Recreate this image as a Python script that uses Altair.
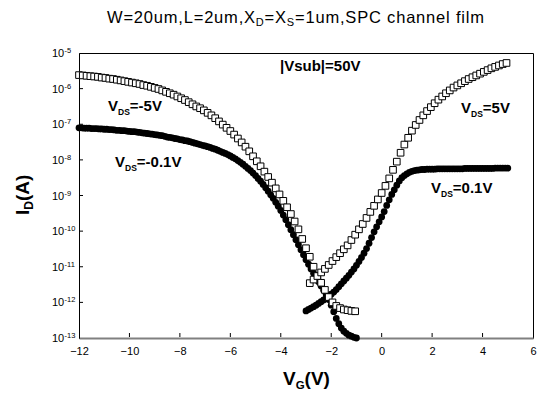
import altair as alt
import pandas as pd

# ---------------- data (log10 of drain current) ----------------
# open squares, V_DS = -5 V
vg_sq_neg = [-12.0, -11.85, -11.7, -11.55, -11.4, -11.25, -11.1, -10.95, -10.8, -10.65,
             -10.5, -10.35, -10.2, -10.05, -9.9, -9.75, -9.6, -9.45, -9.3, -9.15,
             -9.0, -8.85, -8.7, -8.55, -8.4, -8.25, -8.1, -7.95, -7.8, -7.65,
             -7.5, -7.35, -7.2, -7.05, -6.9, -6.75, -6.6, -6.45, -6.3, -6.15,
             -6.0, -5.85, -5.7, -5.55, -5.4, -5.25, -5.1, -4.95, -4.8, -4.65,
             -4.5, -4.35, -4.2, -4.05, -3.9, -3.75, -3.6, -3.45, -3.3, -3.15,
             -3.0, -2.85, -2.7, -2.55, -2.4, -2.25, -2.1, -1.95, -1.8, -1.65,
             -1.5, -1.35, -1.2, -1.05]
log_sq_neg = [-5.62, -5.63, -5.64, -5.65, -5.66, -5.67, -5.69, -5.70, -5.72, -5.73,
              -5.75, -5.77, -5.79, -5.81, -5.83, -5.85, -5.87, -5.90, -5.92, -5.95,
              -5.98, -6.01, -6.05, -6.09, -6.13, -6.17, -6.22, -6.27, -6.32, -6.38,
              -6.44, -6.50, -6.55, -6.61, -6.68, -6.75, -6.83, -6.92, -7.01, -7.10,
              -7.19, -7.29, -7.40, -7.51, -7.63, -7.76, -7.90, -8.04, -8.18, -8.33,
              -8.48, -8.64, -8.80, -8.97, -9.15, -9.33, -9.52, -9.73, -9.95, -10.22,
              -10.48, -10.72, -11.00, -11.27, -11.45, -11.65, -11.85, -12.00, -12.10, -12.16,
              -12.20, -12.22, -12.24, -12.25]

# open squares, V_DS = 5 V
vg_sq_pos = [-2.85, -2.7, -2.55, -2.4, -2.25, -2.1, -1.95, -1.8, -1.65, -1.5,
             -1.35, -1.2, -1.05, -0.9, -0.75, -0.6, -0.45, -0.3, -0.15, 0.0,
             0.15, 0.3, 0.45, 0.6, 0.75, 0.9, 1.05, 1.2, 1.35, 1.5,
             1.65, 1.8, 1.95, 2.1, 2.25, 2.4, 2.55, 2.7, 2.85, 3.0,
             3.15, 3.3, 3.45, 3.6, 3.75, 3.9, 4.05, 4.2, 4.35, 4.5,
             4.65, 4.8, 4.95]
log_sq_pos = [-11.46, -11.36, -11.26, -11.16, -11.06, -10.95, -10.84, -10.73, -10.62, -10.51,
              -10.40, -10.25, -10.10, -9.95, -9.80, -9.63, -9.46, -9.29, -9.11, -8.93,
              -8.73, -8.52, -8.28, -8.05, -7.80, -7.57, -7.38, -7.18, -7.02, -6.88,
              -6.75, -6.63, -6.52, -6.41, -6.31, -6.22, -6.13, -6.05, -5.97, -5.91,
              -5.85, -5.79, -5.73, -5.68, -5.63, -5.58, -5.53, -5.48, -5.43, -5.39,
              -5.35, -5.31, -5.28]

# filled circles, V_DS = -0.1 V
vg_ci_neg = [-12.0, -11.9, -11.8, -11.7, -11.6, -11.5, -11.4, -11.3, -11.2, -11.1,
             -11.0, -10.9, -10.8, -10.7, -10.6, -10.5, -10.4, -10.3, -10.2, -10.1,
             -10.0, -9.9, -9.8, -9.7, -9.6, -9.5, -9.4, -9.3, -9.2, -9.1,
             -9.0, -8.9, -8.8, -8.7, -8.6, -8.5, -8.4, -8.3, -8.2, -8.1,
             -8.0, -7.9, -7.8, -7.7, -7.6, -7.5, -7.4, -7.3, -7.2, -7.1,
             -7.0, -6.9, -6.8, -6.7, -6.6, -6.5, -6.4, -6.3, -6.2, -6.1,
             -6.0, -5.9, -5.8, -5.7, -5.6, -5.5, -5.4, -5.3, -5.2, -5.1,
             -5.0, -4.9, -4.8, -4.7, -4.6, -4.5, -4.4, -4.3, -4.2, -4.1,
             -4.0, -3.9, -3.8, -3.7, -3.6, -3.5, -3.4, -3.3, -3.2, -3.1,
             -3.0, -2.9, -2.8, -2.7, -2.6, -2.5, -2.4, -2.3, -2.2, -2.1,
             -2.0, -1.9, -1.8, -1.7, -1.6, -1.5, -1.4, -1.3, -1.2, -1.1, -1.0]
log_ci_neg = [-7.10, -7.10, -7.11, -7.11, -7.11, -7.12, -7.12, -7.12, -7.13, -7.13,
              -7.14, -7.14, -7.15, -7.15, -7.16, -7.17, -7.17, -7.18, -7.18, -7.19,
              -7.20, -7.21, -7.21, -7.22, -7.23, -7.24, -7.25, -7.26, -7.27, -7.28,
              -7.29, -7.30, -7.31, -7.32, -7.34, -7.36, -7.37, -7.38, -7.40, -7.41,
              -7.43, -7.44, -7.46, -7.47, -7.49, -7.51, -7.53, -7.55, -7.57, -7.59,
              -7.61, -7.63, -7.65, -7.68, -7.70, -7.73, -7.76, -7.79, -7.82, -7.85,
              -7.89, -7.93, -7.97, -8.02, -8.07, -8.12, -8.18, -8.24, -8.30, -8.37,
              -8.44, -8.52, -8.60, -8.69, -8.78, -8.88, -8.98, -9.08, -9.19, -9.30,
              -9.42, -9.55, -9.68, -9.82, -9.96, -10.10, -10.24, -10.38, -10.52, -10.66,
              -10.80, -10.93, -11.06, -11.18, -11.30, -11.42, -11.54, -11.66, -11.78, -11.92,
              -12.08, -12.26, -12.45, -12.60, -12.72, -12.81, -12.87, -12.92, -12.95, -12.98, -13.00]

# filled circles, V_DS = 0.1 V
vg_ci_pos = [-3.0, -2.9, -2.8, -2.7, -2.6, -2.5, -2.4, -2.3, -2.2, -2.1,
             -2.0, -1.9, -1.8, -1.7, -1.6, -1.5, -1.4, -1.3, -1.2, -1.1,
             -1.0, -0.9, -0.8, -0.7, -0.6, -0.5, -0.4, -0.3, -0.2, -0.1,
             0.0, 0.1, 0.2, 0.3, 0.4, 0.5, 0.6, 0.7, 0.8, 0.9,
             1.0, 1.1, 1.2, 1.3, 1.4, 1.5, 1.6, 1.7, 1.8, 1.9,
             2.0, 2.1, 2.2, 2.3, 2.4, 2.5, 2.6, 2.7, 2.8, 2.9,
             3.0, 3.1, 3.2, 3.3, 3.4, 3.5, 3.6, 3.7, 3.8, 3.9,
             4.0, 4.1, 4.2, 4.3, 4.4, 4.5, 4.6, 4.7, 4.8, 4.9, 5.0]
log_ci_pos = [-12.24, -12.20, -12.16, -12.12, -12.08, -12.03, -11.98, -11.93, -11.88, -11.83,
              -11.77, -11.71, -11.64, -11.56, -11.48, -11.40, -11.32, -11.24, -11.15, -11.06,
              -10.96, -10.85, -10.74, -10.62, -10.49, -10.34, -10.18, -10.02, -9.88, -9.74,
              -9.60, -9.45, -9.28, -9.12, -8.97, -8.84, -8.71, -8.59, -8.50, -8.44,
              -8.39, -8.35, -8.32, -8.30, -8.29, -8.28, -8.27, -8.27, -8.26, -8.26,
              -8.26, -8.26, -8.25, -8.25, -8.25, -8.25, -8.25, -8.25, -8.25, -8.25,
              -8.25, -8.25, -8.25, -8.24, -8.24, -8.24, -8.24, -8.24, -8.24, -8.24,
              -8.24, -8.24, -8.24, -8.24, -8.24, -8.23, -8.23, -8.23, -8.23, -8.23, -8.23]

x_ticks = [-12, -10, -8, -6, -4, -2, 0, 2, 4, 6]
y_exps = [-5, -6, -7, -8, -9, -10, -11, -12, -13]

# ---------------- layout ----------------
W, H = 454, 285
PL, PT = 79, 53
FONT = "Liberation Sans"

REG = {' ': .278, '(': .333, ')': .333, ',': .278, '-': .333, '.': .278, '=': .584,
       'A': .667, 'C': .722, 'D': .722, 'G': .778, 'I': .278, 'L': .556, 'P': .667,
       'S': .667, 'V': .667, 'W': .944, 'X': .667, 'a': .556, 'b': .556, 'c': .5,
       'e': .556, 'f': .278, 'h': .556, 'i': .222, 'l': .222, 'm': .833, 'n': .556,
       's': .5, 'u': .556, '|': .26}
BOLD = dict(REG)
BOLD.update({'A': .722, 'b': .611, 'u': .611, 's': .556, '|': .28, 'c': .556,
             'e': .556, 'h': .611, 'n': .611, 'm': .889, 'i': .278, 'l': .278, 'f': .333})


def tw(s, fs, bold):
    tab = BOLD if bold else REG
    return sum(tab.get(c, .556) for c in s) * fs


xs = alt.Scale(domain=[-12, 6], nice=False, zero=False)
ys = alt.Scale(type="log", domain=[1e-13, 1e-5], nice=False)
xaxis = alt.Axis(values=x_ticks, ticks=False, tickSize=0, grid=False, title=None,
                 labelFont=FONT, labelFontSize=11, labelColor="black", labelPadding=7,
                 domainColor="#808080", domainWidth=2, labelFlush=False)
yaxis = alt.Axis(labels=False, ticks=False, tickSize=0, grid=False, title=None,
                 domainColor="black", domainWidth=1)
X = alt.X("vg:Q", scale=xs, axis=xaxis)
Y = alt.Y("i:Q", scale=ys, axis=yaxis)


def series(vg, lg):
    return pd.DataFrame({"vg": vg, "i": [10.0 ** v for v in lg]})


circ_neg = alt.Chart(series(vg_ci_neg, log_ci_neg)).mark_point(
    shape="circle", filled=True, size=46, color="black", opacity=1).encode(x=X, y=Y)
circ_pos = alt.Chart(series(vg_ci_pos, log_ci_pos)).mark_point(
    shape="circle", filled=True, size=46, color="black", opacity=1).encode(x=X, y=Y)
sq_neg = alt.Chart(series(vg_sq_neg, log_sq_neg)).mark_point(
    shape="square", filled=True, size=44, fill="white", stroke="black",
    strokeWidth=1, opacity=1).encode(x=X, y=Y)
sq_pos = alt.Chart(series(vg_sq_pos, log_sq_pos)).mark_point(
    shape="square", filled=True, size=44, fill="white", stroke="black",
    strokeWidth=1, opacity=1).encode(x=X, y=Y)

# inward ticks
xt = alt.Chart(pd.DataFrame({"vg": x_ticks[1:-1]})).mark_rule(
    color="black", strokeWidth=1).encode(x=X, y=alt.value(H - 1), y2=alt.value(H - 5))
yt = alt.Chart(pd.DataFrame({"i": [10.0 ** e for e in y_exps[1:-1]]})).mark_rule(
    color="black", strokeWidth=1).encode(y=Y, x=alt.value(0), x2=alt.value(4))

# y tick labels 10^n
ylab_df = pd.DataFrame({"i": [10.0 ** e for e in y_exps], "exp": [str(e) for e in y_exps]})
ylab_base = alt.Chart(ylab_df).mark_text(
    text="10", font=FONT, fontSize=11, align="left", baseline="alphabetic",
    dy=4, color="black").encode(y=Y, x=alt.value(52 - PL))
ylab_exp = alt.Chart(ylab_df).mark_text(
    font=FONT, fontSize=7.5, align="left", baseline="alphabetic",
    dy=0, color="black").encode(y=Y, x=alt.value(52 - PL + tw("10", 11, False) + 0.3),
                                 text="exp:N")

one = pd.DataFrame({"a": [0]})


def rich(pieces, left, base, bold=True, angle=0):
    layers = []
    cur = 0.0
    for text, fs, shift in pieces:
        if angle == 0:
            m = alt.Chart(one).mark_text(
                text=text, font=FONT, fontSize=fs, fontWeight="bold" if bold else "normal",
                align="left", baseline="alphabetic", color="black").encode(
                x=alt.value(left - PL + cur), y=alt.value(base - PT + shift))
        else:
            m = alt.Chart(one).mark_text(
                text=text, font=FONT, fontSize=fs, fontWeight="bold" if bold else "normal",
                align="left", baseline="alphabetic", color="black", angle=angle,
                dx=cur, dy=shift).encode(x=alt.value(left - PL), y=alt.value(base - PT))
        cur += tw(text, fs, bold)
        layers.append(m)
    return layers


labels = []
labels += rich([("V", 15, 0), ("DS", 8.5, 4), ("=-5V", 15, 0)], 108, 111)
labels += rich([("V", 15, 0), ("DS", 8.5, 4), ("=-0.1V", 15, 0)], 115, 167)
labels += rich([("V", 15, 0), ("DS", 8.5, 4), ("=5V", 15, 0)], 461, 113)
labels += rich([("V", 15, 0), ("DS", 8.5, 4), ("=0.1V", 15, 0)], 431, 193)
labels += rich([("|Vsub|=50V", 15, 0)], 280, 71)
labels += rich([("V", 19, 0), ("G", 11.5, 4), ("(V)", 19, 0)], 283, 385)
labels += rich([("I", 19, 0), ("D", 12, 4), ("(A)", 19, 0)], 29, 215, angle=270)

# title, spread like the original
title_parts = [("W=20um,L=2um,X", False), ("D", True), ("=X", False), ("S", True),
               ("=1um,SPC channel film", False)]
T_MAIN, T_SUB = 16.5, 11
T_LEFT, T_RIGHT = 107, 484
chars = []
for txt, sub in title_parts:
    for c in txt:
        chars.append((c, sub))
natural = sum(tw(c, T_SUB if s else T_MAIN, False) for c, s in chars)
ls = (T_RIGHT - T_LEFT - natural) / (len(chars) - 1)
rows = []
cur = T_LEFT
for c, s in chars:
    rows.append({"ch": c, "sub": s, "vg": -12 + (cur - PL) / W * 18})
    cur += tw(c, T_SUB if s else T_MAIN, False) + ls
tdf = pd.DataFrame(rows)
t_main = alt.Chart(tdf[~tdf["sub"]]).mark_text(
    font=FONT, fontSize=T_MAIN, align="left", baseline="alphabetic", color="black").encode(
    x=X, y=alt.value(23 - PT), text="ch:N")
t_sub = alt.Chart(tdf[tdf["sub"]]).mark_text(
    font=FONT, fontSize=T_SUB, align="left", baseline="alphabetic", color="black").encode(
    x=X, y=alt.value(26 - PT), text="ch:N")

chart = alt.layer(
    circ_neg, circ_pos, sq_neg, sq_pos, xt, yt, ylab_base, ylab_exp, t_main, t_sub, *labels
).properties(
    width=W, height=H,
    padding={"left": PL, "top": PT, "right": 538 - PL - W, "bottom": 397 - PT - H},
    autosize=alt.AutoSizeParams(type="none"),
    background="white",
).configure_view(stroke="black", strokeWidth=1)

chart.save("out.html", embed_options={"renderer": "svg", "actions": False})
